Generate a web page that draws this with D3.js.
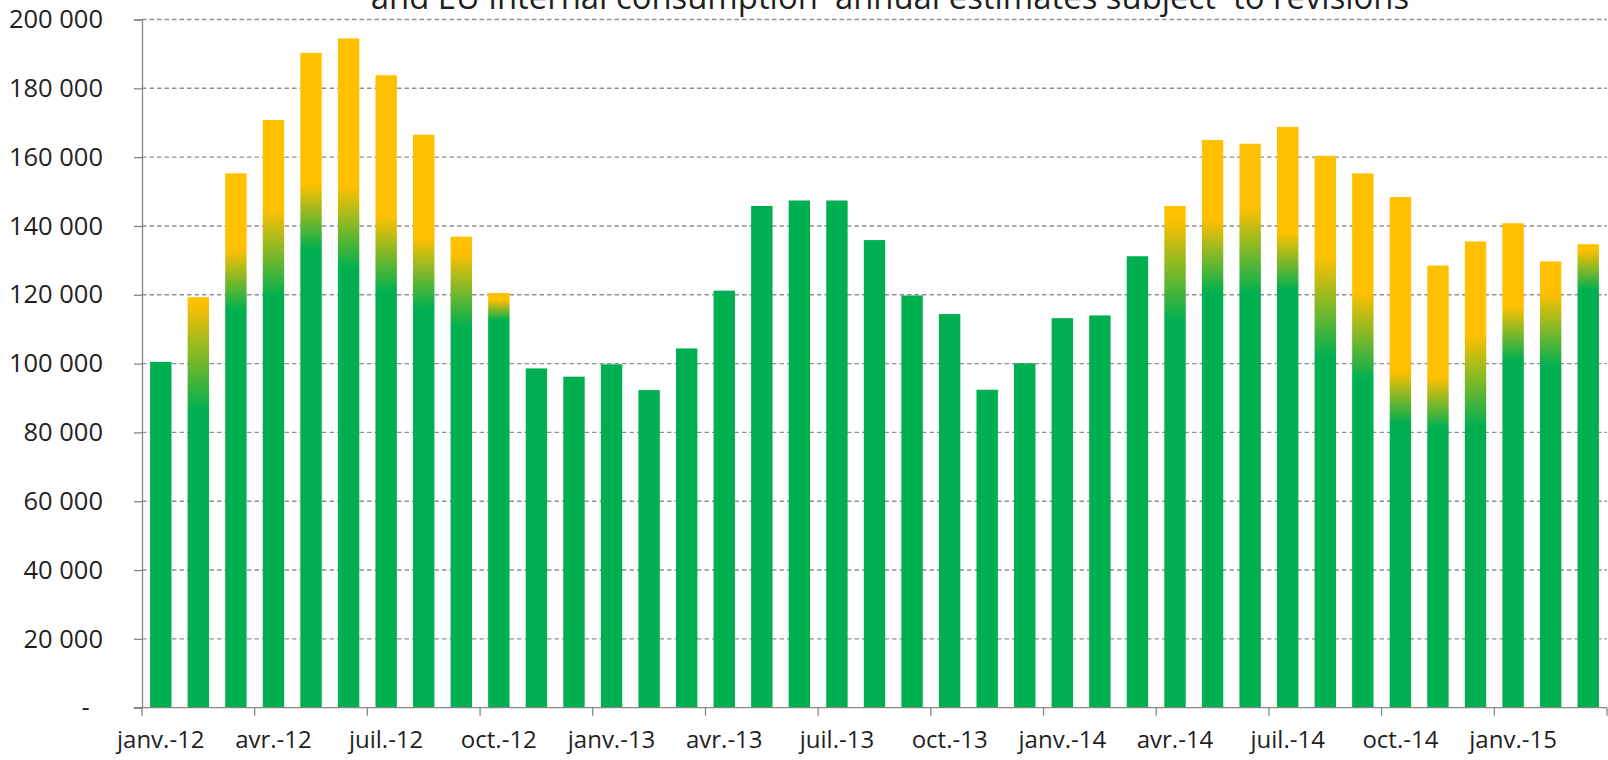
<!DOCTYPE html>
<html><head><meta charset="utf-8">
<script src="https://cdn.jsdelivr.net/npm/d3@7"></script>
<style>
html,body{margin:0;padding:0;background:#fff;overflow:hidden}
svg{display:block;font-family:'Open Sans',sans-serif}
</style></head><body>
<svg id="chart" width="1608" height="760"></svg>
<script>
const titleText = "and EU internal consumption  annual estimates subject  to revisions";

const categories = [
  "janv.-12","févr.-12","mars-12","avr.-12","mai-12","juin-12","juil.-12","août-12","sept.-12","oct.-12","nov.-12","déc.-12",
  "janv.-13","févr.-13","mars-13","avr.-13","mai-13","juin-13","juil.-13","août-13","sept.-13","oct.-13","nov.-13","déc.-13",
  "janv.-14","févr.-14","mars-14","avr.-14","mai-14","juin-14","juil.-14","août-14","sept.-14","oct.-14","nov.-14","déc.-14",
  "janv.-15","févr.-15","mars-15"
];

// bar heights (total)
const totalValues = [
  100500,119300,155300,170800,190300,194500,183800,166500,136900,120500,98600,96200,
  99800,92300,104400,121200,145800,147400,147400,135900,119800,114400,92400,100100,
  113200,114000,131200,145800,165000,163900,168800,160400,155300,148400,128500,135500,
  140800,129700,134700
];
// level up to which the bar is plain green (null = whole bar green)
const greenUntil = [
  null,86500,115600,119500,133000,127700,120900,116200,110800,112700,null,null,
  null,null,null,null,null,null,null,null,null,null,null,null,
  null,null,null,112700,120500,120500,121400,102000,95300,82700,81200,81700,
  101100,99100,121400
];
// level from which the bar is plain yellow
const yellowFrom = [
  null,117600,133000,144600,151900,151500,142700,136500,132200,118500,null,null,
  null,null,null,null,null,null,null,null,null,null,null,null,
  null,null,null,141700,141700,145600,137900,131100,120500,97700,95800,108300,
  116600,120500,133000
];

const yTicks = [0,20000,40000,60000,80000,100000,120000,140000,160000,180000,200000];
const labelEvery = 3;

const GREEN = "#00B050", YELLOW = "#FFC000";
const TEXT = "#1f1f1f", AXIS = "#868686";
const svg = d3.select("#chart");
const plotLeft = 142, plotRight = 1607, plotTop = 19.5, plotBottom = 707.7;

const x = d3.scaleBand().domain(categories).range([plotLeft, plotRight])
  .paddingInner(0.43).paddingOuter(0.215);
const y = d3.scaleLinear().domain([0, 200000]).range([plotBottom, plotTop]);

const locale = d3.formatLocale({decimal: ",", thousands: " ", grouping: [3], currency: ["", ""]});
const fmt = locale.format(",");

// gridlines
svg.append("g").selectAll("line").data(yTicks.filter(d => d > 0)).join("line")
  .attr("x1", plotLeft).attr("x2", plotRight)
  .attr("y1", d => y(d)).attr("y2", d => y(d))
  .attr("stroke", "#8f8f8f").attr("stroke-width", 1.4).attr("stroke-dasharray", "4.5,3");

// gradients
const defs = svg.append("defs");
categories.forEach((c, i) => {
  if (greenUntil[i] == null) return;
  const g = defs.append("linearGradient").attr("id", "grad" + i)
    .attr("gradientUnits", "userSpaceOnUse")
    .attr("x1", 0).attr("x2", 0)
    .attr("y1", y(greenUntil[i])).attr("y2", y(yellowFrom[i]));
  g.append("stop").attr("offset", 0).attr("stop-color", GREEN);
  g.append("stop").attr("offset", 1).attr("stop-color", YELLOW);
});

// bars
svg.append("g").selectAll("rect").data(categories).join("rect")
  .attr("x", d => x(d)).attr("width", x.bandwidth())
  .attr("y", (d, i) => y(totalValues[i]))
  .attr("height", (d, i) => y(0) - y(totalValues[i]))
  .attr("fill", (d, i) => greenUntil[i] == null ? GREEN : `url(#grad${i})`);

// y axis
const yAxis = svg.append("g").attr("transform", `translate(${plotLeft},0)`)
  .call(d3.axisLeft(y).tickValues(yTicks).tickSize(8).tickPadding(31)
    .tickFormat(d => d === 0 ? "-  " : fmt(d)));
yAxis.select(".domain").attr("stroke", AXIS).attr("stroke-width", 1.3);
yAxis.selectAll(".tick line").attr("stroke", AXIS).attr("stroke-width", 1.3);
yAxis.selectAll("text").attr("font-size", 25.5).attr("fill", TEXT)
  .style("white-space", "pre").attr("font-family", "'Open Sans',sans-serif");

// x axis: labels at category centres every 3 months
const xAxis = svg.append("g").attr("transform", `translate(0,${plotBottom})`)
  .call(d3.axisBottom(x).tickValues(categories.filter((d, i) => i % labelEvery === 0))
    .tickSize(0).tickPadding(23));
xAxis.select(".domain").remove();
xAxis.selectAll("text").attr("font-size", 24).attr("fill", TEXT)
  .attr("font-family", "'Open Sans',sans-serif");

svg.append("line").attr("x1", plotLeft - 8).attr("x2", plotRight)
  .attr("y1", plotBottom).attr("y2", plotBottom)
  .attr("stroke", AXIS).attr("stroke-width", 1.3);
const boundaryIdx = d3.range(0, categories.length + 1, labelEvery);
svg.append("g").selectAll("line").data(boundaryIdx).join("line")
  .attr("x1", i => plotLeft + i * x.step()).attr("x2", i => plotLeft + i * x.step())
  .attr("y1", plotBottom).attr("y2", plotBottom + 8)
  .attr("stroke", AXIS).attr("stroke-width", 1.3);

// title (top clipped as in source)
const title = svg.append("text").attr("x", 890).attr("y", 8.5)
  .attr("text-anchor", "middle").attr("fill", TEXT)
  .style("white-space", "pre").attr("font-size", 33).text(titleText);
const len = title.node().getComputedTextLength();
title.attr("font-size", 33 * 1039 / len);
</script>
</body></html>
